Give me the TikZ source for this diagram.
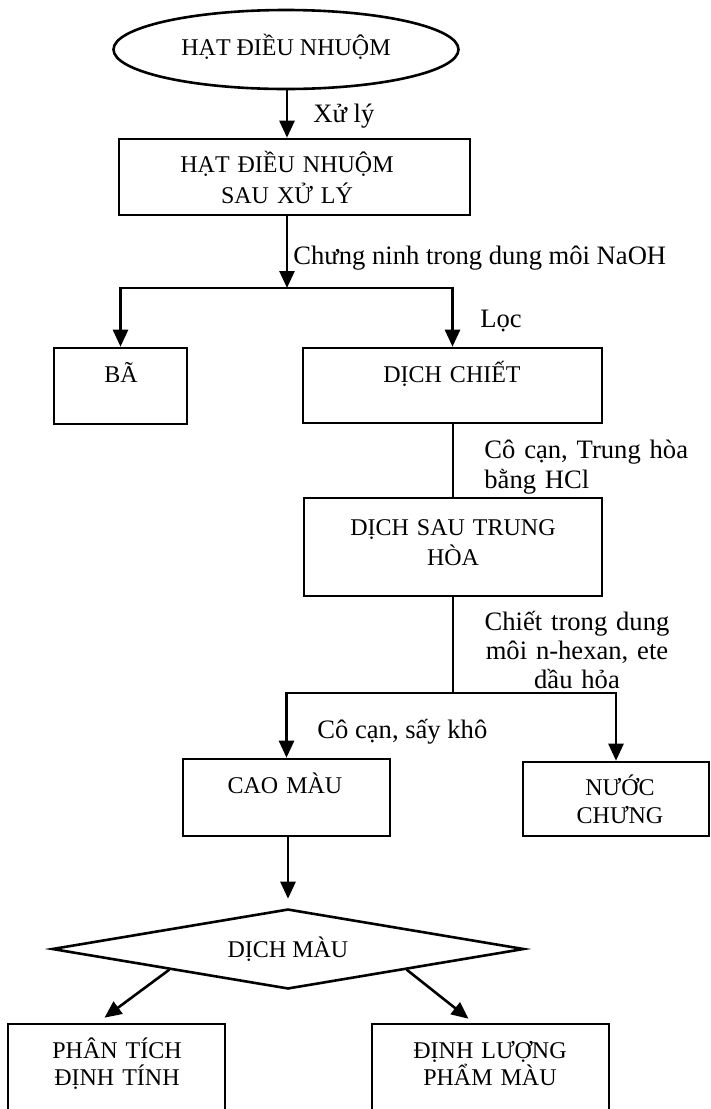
\documentclass[tikz,border=0pt]{standalone}
\usepackage{fontspec}
\setmainfont{Liberation Serif}
\usetikzlibrary{arrows.meta,shapes.geometric,fit,calc}
\begin{document}
\begin{tikzpicture}[x=0.5pt,y=-0.5pt,
  lw/.style={line width=1.3pt},
  box/.style={draw,lw,inner sep=0pt,rectangle},
  arr/.style={lw,-{Triangle[width=7.5pt,length=8.5pt]}},
  ln/.style={lw},
  btxt/.style={font=\fontsize{12}{14.5}\selectfont, anchor=base, align=center, inner sep=0pt, text width=110pt},
  lbl/.style={font=\fontsize{13.3}{15}\selectfont, anchor=base west, inner sep=0pt, align=left},
]
\useasboundingbox (0,0) rectangle (711,1109);
\clip (0,0) rectangle (711,1109);

% nodes
\node[draw,lw,ellipse,inner sep=0pt,minimum width=172.5pt,minimum height=39.5pt,
      font=\fontsize{12}{14.5}\selectfont,text height=7.9pt,text depth=2.4pt] (e1) at (286,49.5) {HẠT ĐIỀU NHUỘM};

\node[box,fit={(119,139) (470,215)}] (b2) {};
\node[btxt,font=\fontsize{12}{15.5}\selectfont] (t2) at (287,172) {HẠT ĐIỀU NHUỘM\\SAU XỬ LÝ};

\node[box,fit={(54,348) (187,424)}] (ba) {};
\node[btxt] (tba) at (121,382) {BÃ};

\node[box,fit={(303,348) (602,423)}] (dc) {};
\node[btxt] (tdc) at (452,382) {DỊCH CHIẾT};

\node[box,fit={(304,498) (602,596)}] (b3) {};
\node[btxt,font=\fontsize{12}{15}\selectfont] (tb3) at (453,535) {DỊCH SAU TRUNG\\HÒA};

\node[box,fit={(183,759) (390,836)}] (cm) {};
\node[btxt] (tcm) at (285,793) {CAO MÀU};

\node[box,fit={(523,762) (709,836)}] (nc) {};
\node[btxt,font=\fontsize{12}{14}\selectfont] (tnc) at (620,795) {NƯỚC\\CHƯNG};

\node[draw,lw,diamond,inner sep=0pt,aspect=5.9,minimum width=236pt,minimum height=40pt,
      font=\fontsize{12}{14.5}\selectfont,text height=8pt,text depth=0pt] (dm) at (288,949) {DỊCH MÀU};

\node[box,fit={(8,1024) (225,1130)}] (pa) {};
\node[btxt,font=\fontsize{12}{13.5}\selectfont] (tpa) at (117,1058) {PHÂN TÍCH\\ĐỊNH TÍNH};

\node[box,fit={(372,1024) (609,1130)}] (dl) {};
\node[btxt,font=\fontsize{12}{13.5}\selectfont] (tdl) at (490,1058) {ĐỊNH LƯỢNG\\PHẨM MÀU};

% labels
\node[lbl] (l1) at (313,122) {Xử lý};
\node[lbl] (l2) at (293,264) {Chưng ninh trong dung môi NaOH};
\node[lbl] (l3) at (480,327) {Lọc};
\node[lbl,text width=110pt] (l4) at (484,458) {Cô cạn, Trung hòa\\bằng HCl};
\node[lbl,anchor=base,text width=100pt,align=center,font=\fontsize{13.3}{14.5}\selectfont] (l5) at (577,630) {Chiết trong dung\\môi n-hexan, ete\\dầu hỏa};
\node[lbl] (l6) at (317,738) {Cô cạn, sấy khô};

% connectors
\coordinate (j1) at (287,288);
\coordinate (j2) at (453,693);
\draw[arr] (j1 |- e1.south) -- (j1 |- b2.north);
\draw[arr] (j1 |- b2.south) -- (j1);
\draw[arr] (j1) -| (ba.north);
\draw[arr] (j1) -| (dc.north);
\draw[ln] (j2 |- dc.south) -- (j2 |- b3.north);
\draw[ln] (j2 |- b3.south) -- (j2);
\draw[arr] (j2) -| (cm.north);
\draw[arr] (j2) -| (nc.north);
\draw[arr] (dm.north |- cm.south) -- ($(dm.north)+(0,-9)$);
\draw[arr] (dm.south west) -- ($(pa.north)+(-12,-5)$);
\draw[arr] (dm.south east) -- ($(dl.north)+(-22,-4)$);
\end{tikzpicture}
\end{document}
